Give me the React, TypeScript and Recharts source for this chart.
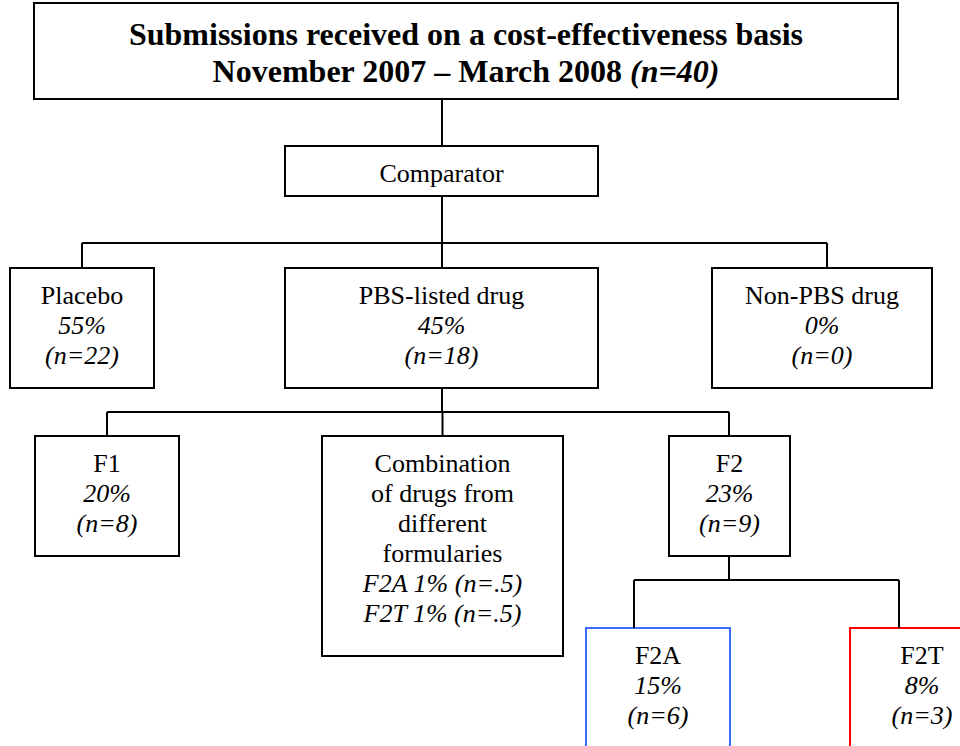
import { ScatterChart, Scatter, XAxis, YAxis, ReferenceArea, ReferenceLine } from 'recharts';

// tree nodes
const NODE_IDS = ['root', 'comparator', 'placebo', 'pbs', 'nonpbs', 'f1', 'combo', 'f2', 'f2a', 'f2t'];
const NODE_LABELS = [
  'Submissions received on a cost-effectiveness basis',
  'Comparator',
  'Placebo',
  'PBS-listed drug',
  'Non-PBS drug',
  'F1',
  'Combination\nof drugs from\ndifferent\nformularies',
  'F2',
  'F2A',
  'F2T',
];
const NODE_PCT: (number | null)[] = [null, null, 55, 45, 0, 20, null, 23, 15, 8];
const NODE_N: (number | null)[] = [40, null, 22, 18, 0, 8, null, 9, 6, 3];
const NODE_PARENT: (string | null)[] = [null, 'root', 'comparator', 'comparator', 'comparator', 'pbs', 'pbs', 'pbs', 'f2', 'f2'];
const PERIOD = 'November 2007 – March 2008';
const COMBO_CODES = ['F2A', 'F2T'];
const COMBO_PCT = [1, 1];
const COMBO_N = ['.5', '.5'];

// layout (chart units = px)
const BOX: Record<string, [number, number, number, number]> = {
  root: [34, 898, 3, 99],
  comparator: [285, 598, 146, 196],
  placebo: [10, 154, 268, 388],
  pbs: [285, 598, 268, 388],
  nonpbs: [712, 932, 268, 388],
  f1: [35, 179, 436, 556],
  combo: [322, 563, 436, 656],
  f2: [669, 790, 436, 556],
  f2a: [586, 730, 628, 780],
  f2t: [850, 994, 628, 780],
};
const ANCHOR_X: Record<string, number> = { root: 442, comparator: 442, pbs: 442, f2: 729, nonpbs: 827, f2a: 634, f2t: 899 };
const BUS_Y: Record<string, number> = { comparator: 243, pbs: 412, f2: 580 };
const BORDER: Record<string, string> = { f2a: '#3b6cff', f2t: '#ff0000' };

const FONT = '"Liberation Serif", "Times New Roman", serif';

const anchor = (id: string) => ANCHOR_X[id] ?? (BOX[id][0] + BOX[id][1]) / 2;

const segments: { x1: number; y1: number; x2: number; y2: number }[] = [];
NODE_IDS.forEach((id, i) => {
  const p = NODE_PARENT[i];
  if (!p) return;
  const bus = BUS_Y[p];
  const ax = anchor(id);
  if (bus == null) {
    segments.push({ x1: anchor(p), y1: BOX[p][3], x2: ax, y2: BOX[id][2] });
  } else {
    segments.push({ x1: ax, y1: bus, x2: ax, y2: BOX[id][2] });
  }
});
Object.keys(BUS_Y).forEach((p) => {
  const kids = NODE_IDS.filter((_, i) => NODE_PARENT[i] === p).map(anchor);
  segments.push({ x1: anchor(p), y1: BOX[p][3], x2: anchor(p), y2: BUS_Y[p] });
  segments.push({ x1: Math.min(...kids), y1: BUS_Y[p], x2: Math.max(...kids), y2: BUS_Y[p] });
});

const points = NODE_IDS.map((id, i) => ({ x: (BOX[id][0] + BOX[id][1]) / 2, y: BOX[id][2], i }));

function NodeText(props: any) {
  const { cx, cy, payload } = props;
  const i = payload.i;
  const id = NODE_IDS[i];
  if (id === 'root') {
    return (
      <g fontFamily={FONT} fontSize={32} fontWeight="bold" fill="#000" textAnchor="middle">
        <text x={cx} y={cy + 42}>{NODE_LABELS[i]}</text>
        <text x={cx} y={cy + 79}>
          {PERIOD + ' '}
          <tspan fontStyle="italic">(n={NODE_N[i]})</tspan>
        </text>
      </g>
    );
  }
  const lines: { t: string; italic: boolean }[] = NODE_LABELS[i].split('\n').map((t) => ({ t, italic: false }));
  if (NODE_PCT[i] != null) lines.push({ t: `${NODE_PCT[i]}%`, italic: true });
  if (NODE_N[i] != null) lines.push({ t: `(n=${NODE_N[i]})`, italic: true });
  if (id === 'combo') {
    COMBO_CODES.forEach((c, k) => lines.push({ t: `${c} ${COMBO_PCT[k]}% (n=${COMBO_N[k]})`, italic: true }));
  }
  return (
    <g fontFamily={FONT} fontSize={26} fill="#000" textAnchor="middle">
      {lines.map((l, k) => (
        <text key={k} x={cx} y={cy + 36 + k * 30} fontStyle={l.italic ? 'italic' : 'normal'}>
          {l.t}
        </text>
      ))}
    </g>
  );
}

export default function App() {
  return (
    <div style={{ position: 'absolute', left: 0, top: 0, background: '#fff' }}>
      <ScatterChart width={960} height={746} margin={{ top: 0, right: 0, bottom: 0, left: 0 }}>
        <XAxis type="number" dataKey="x" domain={[0, 960]} hide />
        <YAxis type="number" dataKey="y" domain={[0, 746]} reversed hide />
        {segments.map((s, k) => (
          <ReferenceLine
            key={'l' + k}
            segment={[{ x: s.x1, y: s.y1 }, { x: s.x2, y: s.y2 }]}
            stroke="#000"
            strokeWidth={2}
            ifOverflow="visible"
          />
        ))}
        {NODE_IDS.map((id) => (
          <ReferenceArea
            key={id}
            x1={BOX[id][0]}
            x2={BOX[id][1]}
            y1={BOX[id][2]}
            y2={BOX[id][3]}
            fill="none"
            fillOpacity={0}
            stroke={BORDER[id] ?? '#000'}
            strokeOpacity={1}
            strokeWidth={2}
            ifOverflow="visible"
          />
        ))}
        <Scatter data={points} shape={NodeText} isAnimationActive={false} />
      </ScatterChart>
    </div>
  );
}
